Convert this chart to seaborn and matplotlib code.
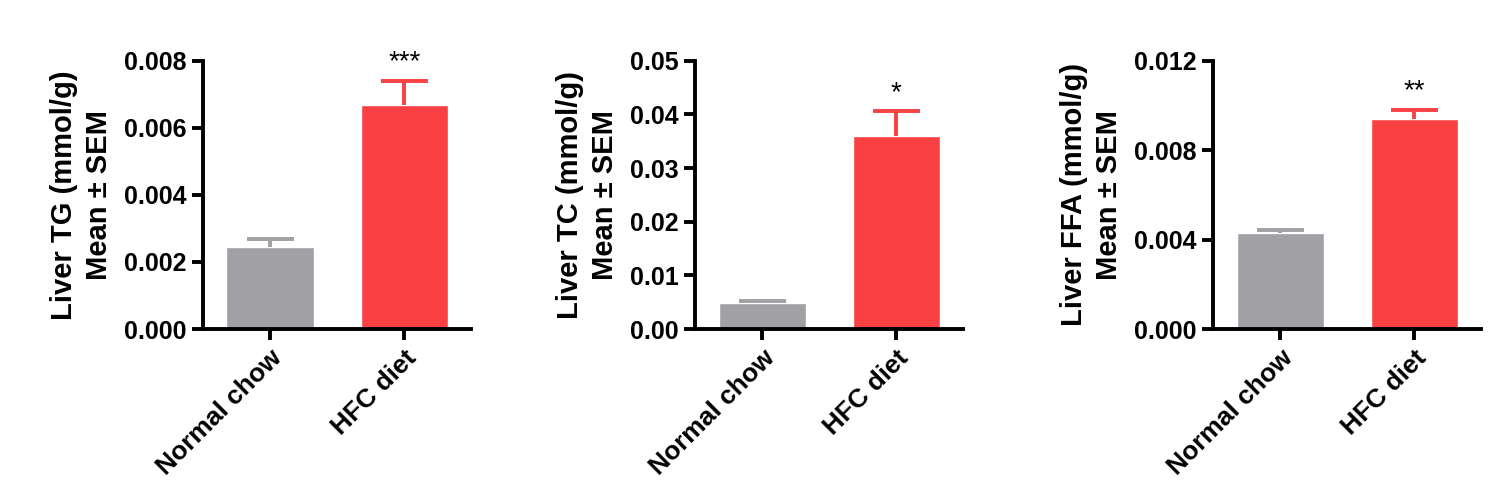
import numpy as np
import pandas as pd
import seaborn as sns
import matplotlib.pyplot as plt

groups = ['Normal chow', 'HFC diet']
tg_mean = [0.00246, 0.00668]
tg_sem = [0.00024, 0.00072]
tc_mean = [0.0048, 0.0360]
tc_sem = [0.0005, 0.0046]
ffa_mean = [0.00430, 0.00940]
ffa_sem = [0.00012, 0.00042]
stars = ['***', '*', '**']
ylabels = ['Liver TG (mmol/g)\nMean ± SEM', 'Liver TC (mmol/g)\nMean ± SEM',
           'Liver FFA (mmol/g)\nMean ± SEM']
yticks = [[0, 0.002, 0.004, 0.006, 0.008],
          [0, 0.01, 0.02, 0.03, 0.04, 0.05],
          [0, 0.004, 0.008, 0.012]]
tick_fmt = ['%.3f', '%.2f', '%.3f']
colors = ['#A0A0A5', '#F94144']

sns.set_style('ticks')
plt.rcParams['font.family'] = ['Liberation Sans', 'DejaVu Sans']
plt.rcParams['font.weight'] = 'bold'
for k in ['text.color', 'axes.labelcolor', 'xtick.color', 'ytick.color']:
    plt.rcParams[k] = 'black'

fig = plt.figure(figsize=(15.08, 4.92), dpi=100)
lefts = [0.1346, 0.4609, 0.8044]

panels = [(tg_mean, tg_sem), (tc_mean, tc_sem), (ffa_mean, ffa_sem)]
for i, (means, sems) in enumerate(panels):
    ax = fig.add_axes([lefts[i], 0.3313, 0.178, 0.545])
    df = pd.DataFrame({'group': groups, 'value': means})
    sns.barplot(data=df, x='group', y='value', hue='group', palette=colors,
                width=0.65, legend=False, ax=ax, saturation=1)
    # upward-only SEM whiskers
    for j in range(2):
        top = means[j] + sems[j]
        ax.vlines(j, means[j], top, color=colors[j], lw=2.8)
        ax.hlines(top, j - 0.175, j + 0.175, color=colors[j], lw=2.8)
    ax.text(1, means[1] + sems[1] + yticks[i][-1] * 0.02, stars[i],
            ha='center', va='bottom', fontsize=20, fontweight='normal')
    ax.set_xlim(-0.5, 1.5)
    ax.set_ylim(0, yticks[i][-1])
    ax.set_yticks(yticks[i])
    ax.set_yticklabels([tick_fmt[i] % t for t in yticks[i]], fontsize=18, fontweight='bold')
    ax.set_xticks([0, 1])
    ax.set_xticklabels(groups, rotation=45, ha='right', rotation_mode='anchor',
                       fontsize=19, fontweight='bold')
    ax.set_xlabel('')
    ax.set_ylabel(ylabels[i], fontsize=21, fontweight='bold', labelpad=8,
                  linespacing=1.3)
    sns.despine(ax=ax)
    for s in ['left', 'bottom']:
        ax.spines[s].set_linewidth(2.8)
        ax.spines[s].set_color('black')
    ax.tick_params(width=2.8, length=8, color='black', pad=4)

fig.savefig('out.png', dpi=100)
